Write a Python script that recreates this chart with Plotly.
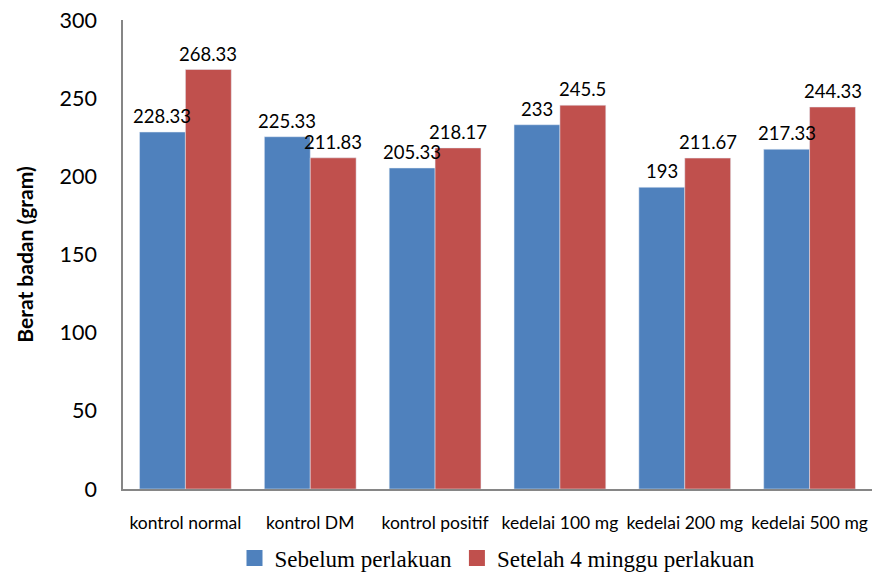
import plotly.graph_objects as go

categories = ["kontrol normal", "kontrol DM", "kontrol positif", "kedelai 100 mg", "kedelai 200 mg", "kedelai 500 mg"]
sebelum = [228.33, 225.33, 205.33, 233, 193, 217.33]
setelah = [268.33, 211.83, 218.17, 245.5, 211.67, 244.33]
sebelum_labels = ["228.33", "225.33", "205.33", "233", "193", "217.33"]
setelah_labels = ["268.33", "211.83", "218.17", "245.5", "211.67", "244.33"]
series_names = ["Sebelum perlakuan", "Setelah 4 minggu perlakuan"]
colors = ["#4F81BD", "#C0504D"]

fig = go.Figure()
for vals, name, col in [(sebelum, series_names[0], colors[0]),
                        (setelah, series_names[1], colors[1])]:
    fig.add_trace(go.Bar(x=categories, y=vals, name=name, showlegend=False,
                         marker_color=col, cliponaxis=False))
# legend entries with larger square markers
for name, col in zip(series_names, colors):
    fig.add_trace(go.Scatter(x=[None], y=[None], mode="markers", name=name,
                             marker=dict(symbol="square", size=16, color=col)))

# data labels drawn above all bars
for vals, labels, shift in [(sebelum, sebelum_labels, -23), (setelah, setelah_labels, 23)]:
    for c, v, t in zip(categories, vals, labels):
        fig.add_annotation(x=c, y=v, text=t, showarrow=False, xshift=shift, yshift=3,
                           yanchor="bottom", font=dict(size=18.5, color="black", family="Lato"))

fig.update_layout(
    width=872, height=573,
    margin=dict(l=123, r=0, t=20, b=84, autoexpand=False),
    plot_bgcolor="white", paper_bgcolor="white",
    barmode="group", bargap=0.265, bargroupgap=0,
    font=dict(family="Lato", color="black"),
    legend=dict(orientation="h", x=0.5, xanchor="center", y=0.026, yref="container", yanchor="middle",
                font=dict(family="Liberation Serif", size=23, color="black"),
                itemwidth=30, tracegroupgap=0),
    xaxis=dict(showline=True, linecolor="#868686", linewidth=1.5, ticks="", automargin=False,
               ticklabelstandoff=17,
               tickfont=dict(size=17.5, family="Lato")),
    yaxis=dict(range=[0, 300], dtick=50, showline=True, linecolor="#868686", linewidth=1.5,
               showgrid=False, zeroline=False, ticks="", automargin=False,
               ticklabelstandoff=20,
               tickfont=dict(size=21.5, family="Lato"),
               title=dict(text="<b>Berat badan (gram)</b>", font=dict(size=21, family="Lato"), standoff=20)),
)
fig.write_html("out.html")
